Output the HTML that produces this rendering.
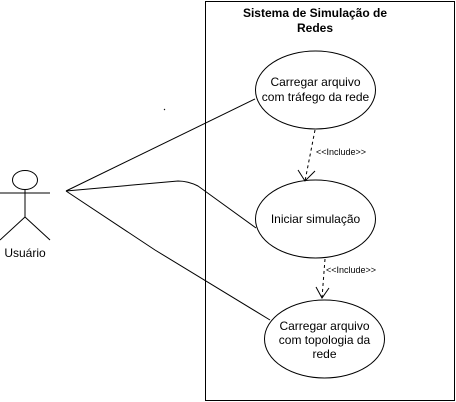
<!DOCTYPE html>
<html><head><meta charset="utf-8"><style>body{margin:0;background:#fff}svg{display:block}</style></head><body>
<svg width="456" height="402" viewBox="0 0 456 402" xmlns="http://www.w3.org/2000/svg" font-family="Liberation Sans, Arial, sans-serif" font-size="12">
<rect x="205.5" y="1.5" width="249" height="399" fill="#fff" stroke="#000"/>
<text x="315" y="17" text-anchor="middle" font-weight="bold">Sistema de Simulação de</text>
<text x="315" y="32" text-anchor="middle" font-weight="bold">Redes</text>
<g fill="#fff" stroke="#000">
<ellipse cx="315.5" cy="90" rx="60" ry="39"/>
<ellipse cx="315.5" cy="219" rx="60" ry="39"/>
<ellipse cx="324.5" cy="339" rx="60" ry="39"/>
<ellipse cx="25" cy="180" rx="12.5" ry="9.5"/>
</g>
<g fill="none" stroke="#000">
<line x1="25" y1="190" x2="25" y2="217"/>
<line x1="0" y1="193" x2="50" y2="193"/>
<line x1="25" y1="217" x2="0" y2="240"/>
<line x1="25" y1="217" x2="50" y2="240"/>
<line x1="66" y1="191" x2="255" y2="99"/>
<path d="M66 191 L178 181 Q188 181 198 186 L256 228"/>
<path d="M66 191 L155 250 L270 320"/>
<path d="M315 130 L305 181" stroke-dasharray="3,3"/>
<path d="M298 170 L305 181 L315 171"/>
<path d="M325 259 L322 298" stroke-dasharray="3,3"/>
<path d="M316 287 L322 298 L329 288"/>
<line x1="164" y1="109" x2="165" y2="110"/>
</g>
<text x="315.5" y="86" text-anchor="middle">Carregar arquivo</text>
<text x="315.5" y="101" text-anchor="middle">com tráfego da rede</text>
<text x="315.5" y="223" text-anchor="middle">Iniciar simulação</text>
<text x="324.5" y="330" text-anchor="middle">Carregar arquivo</text>
<text x="324.5" y="344" text-anchor="middle">com topologia da</text>
<text x="324.5" y="358" text-anchor="middle">rede</text>
<text x="25" y="257" text-anchor="middle">Usuário</text>
<text x="316" y="155" font-size="9">&lt;&lt;Include&gt;&gt;</text>
<text x="326" y="273" font-size="9">&lt;&lt;Include&gt;&gt;</text>
</svg>
</body></html>
